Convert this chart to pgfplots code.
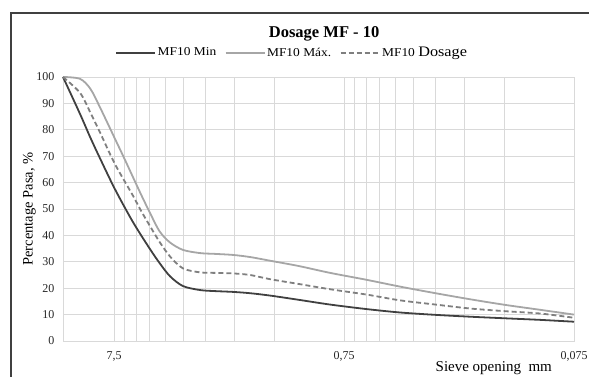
\documentclass[border=0pt]{standalone}
\usepackage{pgfplots}
\pgfplotsset{compat=1.18}
\usepackage{fontspec}
\setmainfont{Liberation Serif}
\newfontfamily\legfont{Liberation Serif}[FakeStretch=1.12]
\definecolor{cmin}{HTML}{404040}
\definecolor{cmax}{HTML}{A6A6A6}
\definecolor{cdos}{HTML}{7F7F7F}
\definecolor{cgrid}{HTML}{D9D9D9}
\definecolor{cframe}{HTML}{404040}
\begin{document}
\begin{tikzpicture}[x=1pt,y=1pt]
\useasboundingbox (0,0) rectangle (589,377);
\draw[cframe, line width=1.4pt] (11,0) -- (11,364) -- (600,364);
\begin{axis}[
  at={(63pt,36pt)}, anchor=south west,
  scale only axis, width=511pt, height=264pt,
  xmode=log, x dir=reverse,
  xmin=0.075, xmax=12.5, ymin=0, ymax=100,
  clip=false,
  xtick={0.075,0.75,7.5},
  xticklabels={{0,075},{0,75},{7,5}},
  minor xtick={0.15,0.225,0.3,0.375,0.45,0.525,0.6,0.675,1.5,2.25,3,3.75,4.5,5.25,6,6.75},
  ytick={0,10,...,100},
  grid=both,
  major grid style={cgrid, line width=0.8pt},
  minor grid style={cgrid, line width=0.8pt},
  axis line style={cgrid, line width=0.8pt},
  tick style={draw=none},
  /pgf/number format/assume math mode=true,
  tick label style={font=\fontsize{12}{13}\selectfont, text=black!85},
  xticklabel style={yshift=-7pt},
  yticklabel style={xshift=-5pt},
  xlabel={Sieve opening\ \ mm},
  xlabel style={at={(axis description cs:0.843,-0.102)}, anchor=center, font=\fontsize{15}{16}\selectfont},
  ylabel={Percentage\ Pasa, \%},
  ylabel style={at={(axis description cs:-0.066,0.5)}, anchor=center, font=\fontsize{14.5}{15}\selectfont},
  title={\textbf{Dosage MF - 10}},
  title style={at={(axis description cs:0.511,1.14)}, anchor=center, yshift=0pt, font=\fontsize{16.5}{18}\selectfont},
  legend style={at={(axis description cs:0.448,1.092)}, anchor=center, draw=none, fill=none,
    font=\legfont\fontsize{12}{13}\selectfont, legend columns=-1,
    nodes={inner xsep=1.5pt},
    /tikz/every even column/.append style={column sep=7pt},
    inner sep=0pt},
  legend image code/.code={\draw[#1, line width=1.8pt] (0pt,0pt) -- (39pt,0pt);},
  legend cell align=left,
]
\addplot[cmin, line width=1.8pt, smooth] coordinates {
(12.5,100) (10.54,86) (9.5,77) (8.63,69.2) (7.43,57.5) (6.2,45) (5.23,34.8) (4.75,29.5)
(4.28,24.5) (3.76,20.8) (3.17,19.3) (2.73,18.9) (2.28,18.6) (1.92,18.1) (1.57,17.2)
(1.18,15.6) (0.862,13.8) (0.6,12.1) (0.428,10.8) (0.3,9.9) (0.212,9.2) (0.15,8.6) (0.105,8) (0.075,7.3)};
\addlegendentry{MF10 Min}
\addplot[cmax, line width=1.8pt, smooth] coordinates {
(12.5,100) (10.54,99.3) (9.5,95.5) (8.63,88.5) (7.43,76.6) (6.72,68.6) (5.78,56.3)
(5.23,48.5) (4.75,41.5) (4.28,37.3) (3.76,34.5) (3.17,33.3) (2.73,33) (2.28,32.6) (1.92,31.8)
(1.57,30.4) (1.18,28.4) (0.862,25.8) (0.6,23.2) (0.428,20.6) (0.3,18.1) (0.212,15.8) (0.15,13.7) (0.105,11.8) (0.075,10)};
\addlegendentry{MF10 Máx.}
\addplot[cdos, line width=1.8pt, dash pattern=on 5pt off 3pt, smooth] coordinates {
(12.5,100) (10.54,94) (9.5,86.5) (8.63,79) (7.43,67) (6.2,55) (5.78,50) (5.23,43.5)
(4.75,37.5) (4.28,32) (3.76,27.5) (3.17,26) (2.73,25.8) (2.28,25.6) (1.92,25) (1.57,23.4)
(1.18,21.6) (0.862,19.6) (0.6,17.6) (0.428,15.4) (0.3,13.8) (0.212,12.3) (0.15,11.3) (0.105,10.4) (0.075,8.8)};
\addlegendentry{MF10 {\fontsize{14.5}{15}\selectfont Dosage}}
\end{axis}
\end{tikzpicture}
\end{document}
